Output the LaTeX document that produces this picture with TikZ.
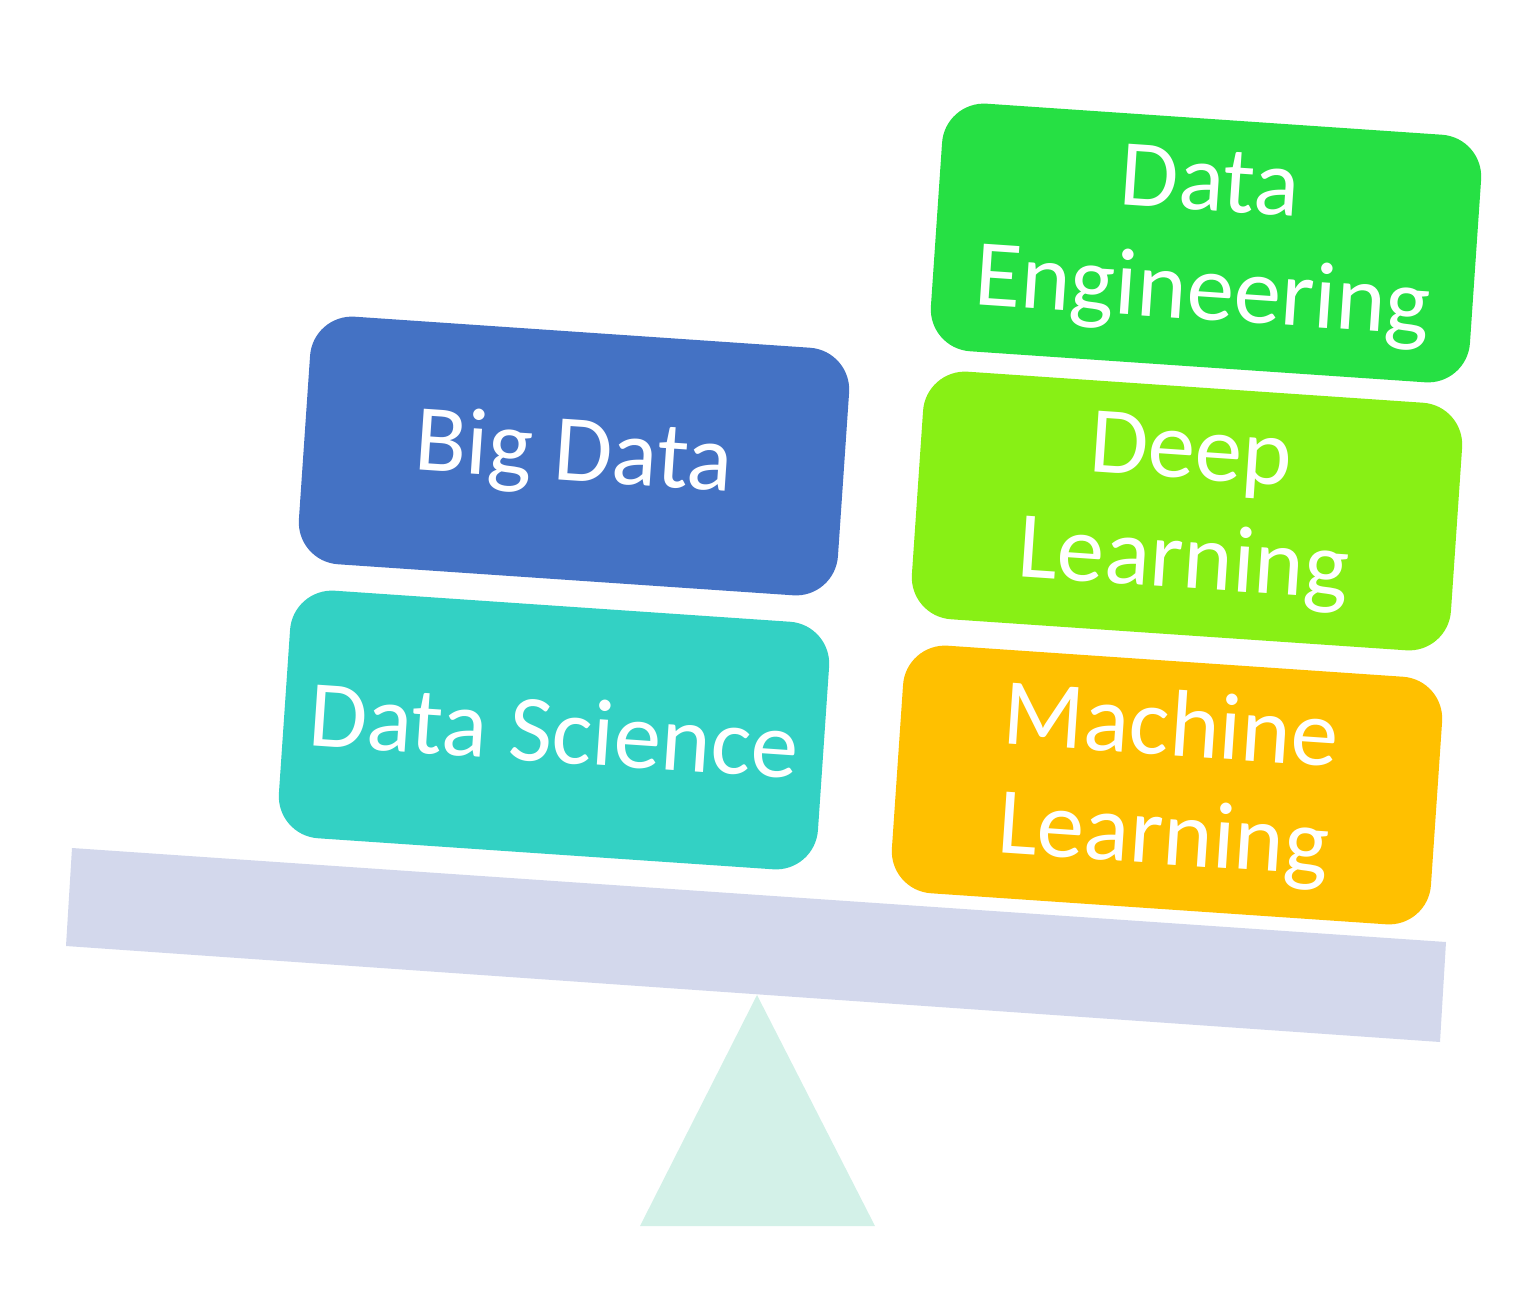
\documentclass[tikz,border=0pt]{standalone}
\usepackage{fontspec}
\setmainfont{Carlito}
\definecolor{cbig}{HTML}{4472C4}
\definecolor{csci}{HTML}{33D1C4}
\definecolor{ceng}{HTML}{26E044}
\definecolor{cdeep}{HTML}{88F015}
\definecolor{cml}{HTML}{FFC000}
\definecolor{cbeam}{HTML}{D3D8EC}
\definecolor{ctri}{HTML}{D3F1E8}
\tikzset{blockbox/.style={rounded corners=0.42cm,minimum width=5.4cm,minimum height=2.48cm,rotate=-3.9,text=white,align=center,font=\fontsize{27}{31}\selectfont,inner sep=0pt}}
\begin{document}
\begin{tikzpicture}[x=0.01cm,y=-0.01cm]
\useasboundingbox (0,0) rectangle (1536,1306);
\fill[ctri] (757,995) -- (875,1226) -- (640,1226) -- cycle;
\fill[cbeam] (72,848) -- (1446,942) -- (1440,1042) -- (66,946) -- cycle;
\node[blockbox,fill=cbig] (bd) at (574,456) {Big Data};
\node[blockbox,fill=csci] (ds) at (554,730) {Data Science};
\node[blockbox,fill=ceng] (de) at (1206,243) {Data\\Engineering};
\node[blockbox,fill=cdeep] (dl) at (1187,511) {Deep\\Learning};
\node[blockbox,fill=cml] (ml) at (1167,785) {Machine\\Learning};
\end{tikzpicture}
\end{document}
